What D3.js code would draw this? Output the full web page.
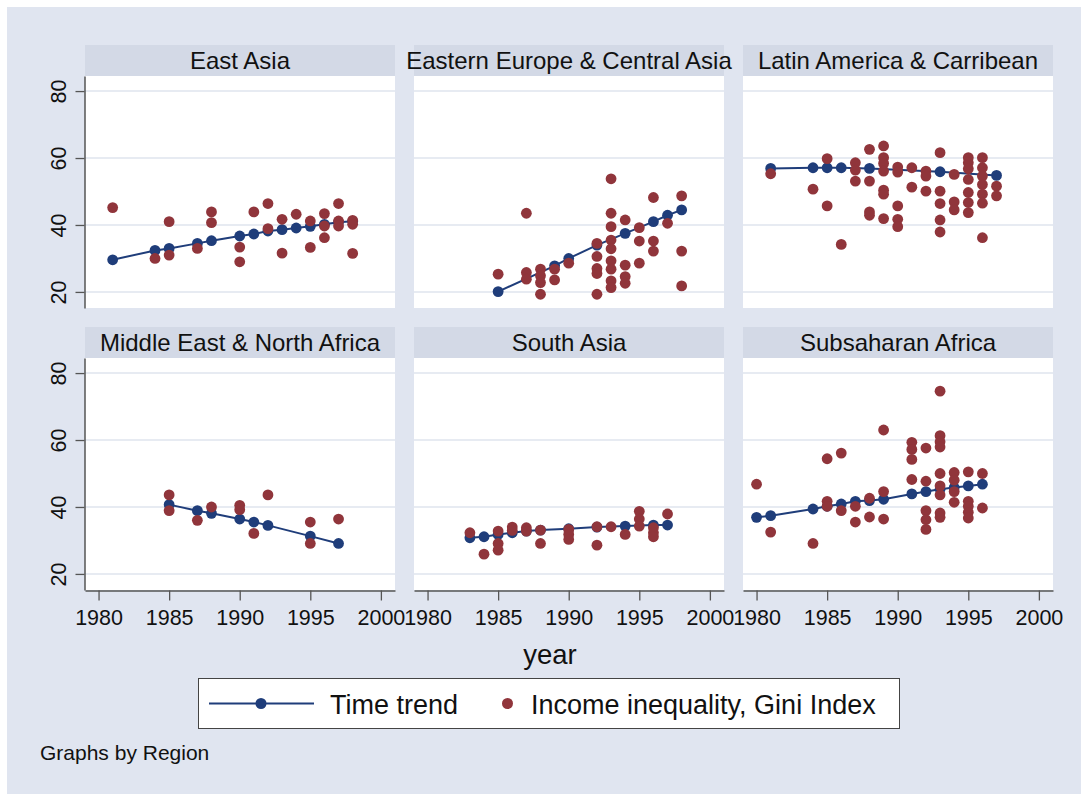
<!DOCTYPE html>
<html>
<head>
<meta charset="utf-8">
<script src="https://cdn.jsdelivr.net/npm/d3@7"></script>
<style>
  body { margin: 0; background: #fff; }
  svg { display: block; font-family: "Liberation Sans", Arial, sans-serif; }
</style>
</head>
<body>
<svg id="viz" width="1081" height="794"></svg>
<script>
// region titles in panel order
const regions = [
  "East Asia", "Eastern Europe & Central Asia", "Latin America & Carribean",
  "Middle East & North Africa", "South Asia", "Subsaharan Africa"
];

// [year, value] pairs
const eastAsiaTrend = [[1981,29.6],[1984,32.4],[1985,33.0],[1987,34.5],[1988,35.3],[1990,36.7],[1991,37.3],[1992,38.2],[1993,38.6],[1994,39.1],[1995,39.6],[1996,40.2],[1997,40.8],[1998,41.1]];
const eastAsiaGini = [[1981,45.2],[1984,30.0],[1985,41.0],[1985,31.0],[1987,33.0],[1988,43.9],[1988,40.7],[1990,33.4],[1990,29.0],[1991,43.9],[1992,46.4],[1992,38.9],[1993,41.7],[1993,31.6],[1994,43.2],[1995,41.2],[1995,33.3],[1996,43.4],[1996,39.7],[1996,36.2],[1997,46.4],[1997,41.2],[1997,39.7],[1998,41.4],[1998,40.2],[1998,31.5]];

const easternEuropeTrend = [[1985,20.1],[1989,27.8],[1990,30.0],[1992,34.0],[1994,37.5],[1996,41.0],[1997,42.9],[1998,44.5]];
const easternEuropeGini = [[1985,25.3],[1987,43.5],[1987,25.8],[1987,23.8],[1988,26.8],[1988,24.8],[1988,22.8],[1988,19.3],[1989,26.8],[1989,23.6],[1990,28.6],[1992,34.5],[1992,30.6],[1992,27.0],[1992,25.5],[1992,19.3],[1993,53.8],[1993,43.5],[1993,39.5],[1993,35.5],[1993,32.9],[1993,29.3],[1993,26.8],[1993,23.3],[1993,21.3],[1994,41.5],[1994,28.0],[1994,24.6],[1994,22.6],[1995,39.2],[1995,35.2],[1995,28.6],[1996,48.2],[1996,35.2],[1996,32.2],[1997,40.5],[1998,48.7],[1998,32.2],[1998,21.8]];

const latinAmericaTrend = [[1981,56.9],[1984,57.1],[1985,57.1],[1986,57.1],[1988,56.9],[1993,55.9],[1997,54.8]];
const latinAmericaGini = [[1981,55.3],[1984,50.7],[1985,59.8],[1985,45.7],[1986,34.2],[1987,58.6],[1987,56.4],[1987,53.1],[1988,62.6],[1988,53.1],[1988,43.9],[1988,42.9],[1989,63.6],[1989,60.1],[1989,58.4],[1989,56.1],[1989,50.4],[1989,49.2],[1989,41.9],[1990,57.3],[1990,55.8],[1990,45.7],[1990,41.7],[1990,39.5],[1991,57.1],[1991,51.3],[1992,56.1],[1992,54.6],[1992,50.1],[1993,61.6],[1993,50.1],[1993,46.4],[1993,41.5],[1993,37.9],[1994,55.1],[1994,46.9],[1994,44.5],[1995,60.1],[1995,58.6],[1995,56.8],[1995,53.6],[1995,49.7],[1995,46.7],[1995,43.7],[1996,60.1],[1996,57.1],[1996,54.6],[1996,52.1],[1996,49.2],[1996,46.5],[1996,36.2],[1997,51.6],[1997,48.7]];

const middleEastTrend = [[1985,40.7],[1987,38.9],[1988,38.1],[1990,36.4],[1991,35.5],[1992,34.5],[1995,31.3],[1997,29.1]];
const middleEastGini = [[1985,43.6],[1985,38.9],[1987,36.0],[1988,40.0],[1990,40.5],[1990,39.2],[1991,32.1],[1992,43.6],[1995,35.5],[1995,29.1],[1997,36.4]];

const southAsiaTrend = [[1983,30.8],[1984,31.1],[1985,31.8],[1986,32.3],[1987,32.8],[1988,33.1],[1990,33.5],[1992,34.0],[1994,34.3],[1996,34.6],[1997,34.6]];
const southAsiaGini = [[1983,32.3],[1984,25.9],[1985,32.8],[1985,29.1],[1985,27.1],[1986,34.0],[1986,33.0],[1987,33.8],[1987,32.8],[1988,33.1],[1988,29.1],[1990,33.3],[1990,31.8],[1990,30.3],[1992,34.1],[1992,28.6],[1993,34.1],[1994,31.8],[1995,38.7],[1995,36.4],[1995,34.3],[1996,33.8],[1996,32.3],[1996,31.1],[1997,37.9]];

const subsaharanTrend = [[1980,36.9],[1981,37.4],[1984,39.4],[1985,40.2],[1986,40.9],[1987,41.7],[1988,41.9],[1989,42.3],[1991,43.9],[1992,44.6],[1993,45.3],[1994,45.8],[1995,46.3],[1996,46.8]];
const subsaharanGini = [[1980,46.8],[1981,32.5],[1984,29.1],[1985,54.4],[1985,41.7],[1985,40.2],[1986,56.1],[1986,38.9],[1987,40.2],[1987,35.5],[1988,42.6],[1988,37.0],[1989,63.0],[1989,44.6],[1989,36.4],[1991,59.3],[1991,57.2],[1991,54.2],[1991,48.2],[1992,57.6],[1992,47.7],[1992,38.9],[1992,36.2],[1992,33.3],[1993,74.6],[1993,61.3],[1993,59.5],[1993,57.9],[1993,50.0],[1993,46.3],[1993,43.6],[1993,38.2],[1993,36.9],[1994,50.3],[1994,48.0],[1994,44.6],[1994,41.4],[1995,50.5],[1995,41.7],[1995,40.2],[1995,38.4],[1995,36.7],[1996,50.0],[1996,39.7]];

const trends = [eastAsiaTrend, easternEuropeTrend, latinAmericaTrend, middleEastTrend, southAsiaTrend, subsaharanTrend];
const ginis = [eastAsiaGini, easternEuropeGini, latinAmericaGini, middleEastGini, southAsiaGini, subsaharanGini];

const yTicks = [20, 40, 60, 80];
const xTicks = [1980, 1985, 1990, 1995, 2000];
const legendLabels = ["Time trend", "Income inequality, Gini Index"];

// colours (Stata s2color look)
const bg = "#e0e5f0", stripBg = "#d3d9e6", gridCol = "#dfe4ee";
const navy = "#1f3d7a", maroon = "#90353b";

const svg = d3.select("#viz");

// layout
const colX = [85, 414, 743];
const rowY = [45, 327];
const panelW = 310, stripH = 31, plotH = 232;

const x = d3.scaleLinear().domain([1979.04, 2001]).range([0, panelW]);
const y = d3.scaleLinear().domain([15.2, 84.5]).range([plotH, 0]);

// graph background
svg.append("rect")
  .attr("x", 7).attr("y", 7)
  .attr("width", 1081 - 7).attr("height", 794 - 7)
  .attr("fill", bg);

regions.forEach((name, i) => {
  const col = i % 3, row = Math.floor(i / 3);
  const g = svg.append("g")
    .attr("transform", `translate(${colX[col]},${rowY[row]})`);

  // title strip
  g.append("rect")
    .attr("width", panelW).attr("height", stripH)
    .attr("fill", stripBg);
  g.append("text")
    .attr("x", panelW / 2).attr("y", 23.5)
    .attr("text-anchor", "middle")
    .attr("font-size", 24)
    .attr("fill", "#111")
    .text(name);

  // plot area
  const p = g.append("g").attr("transform", `translate(0,${stripH})`);
  p.append("rect")
    .attr("width", panelW).attr("height", plotH)
    .attr("fill", "#fff");

  p.selectAll(".grid")
    .data(yTicks)
    .enter().append("line")
    .attr("x1", 0).attr("x2", panelW)
    .attr("y1", d => y(d)).attr("y2", d => y(d))
    .attr("stroke", gridCol)
    .attr("stroke-width", 1.6);

  // trend line + markers
  const line = d3.line().x(d => x(d[0])).y(d => y(d[1]));
  p.append("path")
    .datum(trends[i])
    .attr("d", line)
    .attr("fill", "none")
    .attr("stroke", navy)
    .attr("stroke-width", 2);
  p.selectAll(".trend")
    .data(trends[i])
    .enter().append("circle")
    .attr("cx", d => x(d[0])).attr("cy", d => y(d[1]))
    .attr("r", 5.4)
    .attr("fill", navy);

  // gini points
  p.selectAll(".gini")
    .data(ginis[i])
    .enter().append("circle")
    .attr("cx", d => x(d[0])).attr("cy", d => y(d[1]))
    .attr("r", 5.4)
    .attr("fill", maroon);

  // y axis on left column
  if (col === 0) {
    const ya = p.append("g")
      .attr("transform", "translate(-0.5,0)")
      .call(d3.axisLeft(y).tickValues(yTicks).tickSize(9).tickSizeOuter(0));
    ya.select(".domain").attr("stroke", "#555").attr("stroke-width", 1.5);
    ya.selectAll(".tick line").attr("stroke", "#555").attr("stroke-width", 1.3);
    ya.selectAll(".tick text")
      .attr("transform", "rotate(-90)")
      .attr("text-anchor", "middle")
      .attr("x", 0).attr("y", -19).attr("dy", 0)
      .attr("font-size", 21.5)
      .attr("font-family", "Liberation Sans, Arial, sans-serif")
      .attr("fill", "#111");
  }

  // x axis on bottom row
  if (row === 1) {
    const xa = p.append("g")
      .attr("transform", `translate(0,${plotH + 0.5})`)
      .call(d3.axisBottom(x).tickValues(xTicks).tickFormat(d3.format("d")).tickSize(10).tickSizeOuter(0));
    xa.select(".domain").attr("stroke", "#555").attr("stroke-width", 1.5);
    xa.selectAll(".tick line").attr("stroke", "#555").attr("stroke-width", 1.3);
    xa.selectAll(".tick text")
      .attr("y", 34).attr("dy", 0)
      .attr("font-size", 21.5)
      .attr("font-family", "Liberation Sans, Arial, sans-serif")
      .attr("fill", "#111");
  }
});

// x title
svg.append("text")
  .attr("x", 550).attr("y", 664)
  .attr("text-anchor", "middle")
  .attr("font-size", 27.5)
  .attr("fill", "#111")
  .text("year");

// legend
const leg = svg.append("g");
leg.append("rect")
  .attr("x", 198.5).attr("y", 678.5)
  .attr("width", 701).attr("height", 50)
  .attr("fill", "#fff")
  .attr("stroke", "#444")
  .attr("stroke-width", 1);
leg.append("line")
  .attr("x1", 209).attr("x2", 314)
  .attr("y1", 703.5).attr("y2", 703.5)
  .attr("stroke", navy).attr("stroke-width", 2);
leg.append("circle")
  .attr("cx", 261).attr("cy", 703.5).attr("r", 5.5)
  .attr("fill", navy);
leg.append("text")
  .attr("x", 330).attr("y", 713.5)
  .attr("font-size", 27).attr("fill", "#111")
  .text(legendLabels[0]);
leg.append("circle")
  .attr("cx", 507.5).attr("cy", 703.5).attr("r", 5.5)
  .attr("fill", maroon);
leg.append("text")
  .attr("x", 531).attr("y", 713.5)
  .attr("font-size", 27).attr("fill", "#111")
  .text(legendLabels[1]);

// note
svg.append("text")
  .attr("x", 40).attr("y", 760)
  .attr("font-size", 21)
  .attr("fill", "#111")
  .text("Graphs by Region");
</script>
</body>
</html>
